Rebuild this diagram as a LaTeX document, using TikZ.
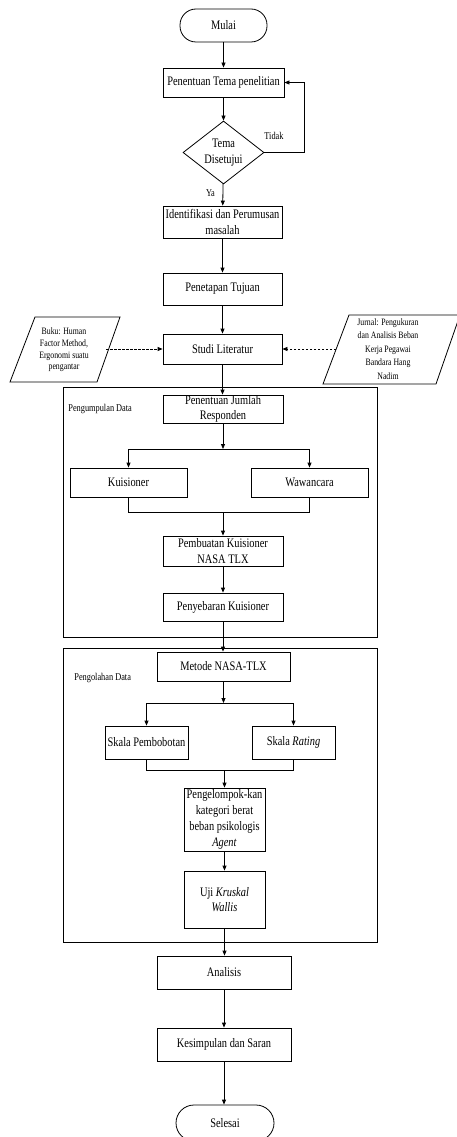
\documentclass[tikz,border=0pt]{standalone}
\usepackage{fontspec}
\setmainfont[FakeStretch=0.8]{Liberation Serif}
\usetikzlibrary{arrows.meta,shapes.geometric}
\begin{document}
\begin{tikzpicture}[x=1pt,y=-1pt,line width=0.8pt,
  font=\fontsize{13}{15.5}\selectfont,
  box/.style={draw,rectangle,align=center,inner sep=0pt},
  term/.style={draw,rectangle,rounded corners=16pt,align=center,inner sep=0pt},
  arr/.style={-{Triangle[length=5pt,width=4pt]}},
  dsh/.style={arr,dash pattern=on 2.5pt off 1.5pt},
  lbl/.style={font=\fontsize{10.4}{11}\selectfont,inner sep=0pt},
  par/.style={font=\fontsize{9.75}{11.7}\selectfont,align=center,inner sep=0pt},
]
\clip (0,0) rectangle (457,1137);
\useasboundingbox (0,0) rectangle (457,1137);

% nodes
\node[term,minimum width=87pt,minimum height=33pt] (mulai) at (223.5,25.5) {Mulai};
\node[box,minimum width=121pt,minimum height=29pt] (tema) at (223.5,82.5) {Penentuan Tema penelitian};
\node[draw,diamond,aspect=1.29,minimum width=81pt,minimum height=63pt,inner sep=0pt,align=center] (dis) at (223.5,152.5) {Tema\\Disetujui};
\node[lbl] (tidak) at (274,136) {Tidak};
\node[lbl] (ya) at (210.5,193) {Ya};
\node[box,minimum width=119pt,minimum height=32pt] (ident) at (222.5,222) {Identifikasi dan Perumusan\\masalah};
\node[box,minimum width=119pt,minimum height=32pt] (tujuan) at (222.5,289) {Penetapan Tujuan};
\node[box,minimum width=119pt,minimum height=30pt] (studi) at (222.5,349) {Studi Literatur};

% literature sources
\draw (35,317) -- (120,317) -- (97,382) -- (10,382) -- cycle;
\node[par] (buku) at (64,350) {Buku: Human\\Factor Method,\\Ergonomi suatu\\pengantar};
\coordinate (bukuR) at (106,349);
\draw (349,315) -- (460,315) -- (436,384) -- (323,384) -- cycle;
\node[par,font=\fontsize{9.75}{13.5}\selectfont] (jurnal) at (388,349) {Jurnal: Pengukuran\\dan Analisis Beban\\Kerja Pegawai\\Bandara Hang\\Nadim};
\coordinate (jurnalL) at (336,349);

% group 1
\draw (63,387) rectangle (377,637);
\node[lbl,anchor=west] (lab1) at (68,409) {Pengumpulan Data};
\node[box,minimum width=120pt,minimum height=28pt] (jumlah) at (223,409) {Penentuan Jumlah\\Responden};
\coordinate (s1) at (223,449);
\coordinate (s1l) at (128.5,449);
\coordinate (s1r) at (309.5,449);
\node[box,minimum width=117pt,minimum height=29pt] (kuis) at (128.5,482.5) {Kuisioner};
\node[box,minimum width=117pt,minimum height=29pt] (waw) at (309.5,482.5) {Wawancara};
\coordinate (m1) at (223,512);
\node[box,minimum width=120pt,minimum height=30pt] (buat) at (223,551) {Pembuatan Kuisioner\\NASA TLX};
\node[box,minimum width=120pt,minimum height=28pt] (sebar) at (223,607) {Penyebaran Kuisioner};

% group 2
\draw (63,648) rectangle (377,942);
\node[lbl,anchor=west] (lab2) at (74,678) {Pengolahan Data};
\node[box,minimum width=133pt,minimum height=29pt] (metode) at (223.5,666.5) {Metode NASA-TLX};
\coordinate (s2) at (223.5,703);
\coordinate (s2l) at (146.5,703);
\coordinate (s2r) at (293.5,703);
\node[box,minimum width=83pt,minimum height=33pt] (pemb) at (146.5,742.5) {Skala Pembobotan};
\node[box,minimum width=83pt,minimum height=33pt] (rating) at (293.5,742.5) {Skala \textit{Rating}};
\coordinate (m2) at (224.5,770);
\node[box,minimum width=81pt,minimum height=63pt,font=\fontsize{13}{16}\selectfont] (kelompok) at (224.5,819.5) {Pengelompok-kan\\kategori berat\\beban psikologis\\\textit{Agent}};
\node[box,minimum width=81pt,minimum height=57pt] (uji) at (224.5,899.5) {Uji \textit{Kruskal}\\\textit{Wallis}};

\node[box,minimum width=134pt,minimum height=33pt] (analisis) at (224,972.5) {Analisis};
\node[box,minimum width=134pt,minimum height=33pt] (kesimpulan) at (224,1044.5) {Kesimpulan dan Saran};
\node[term,rounded corners=18pt,minimum width=98pt,minimum height=36pt] (selesai) at (225,1123) {Selesai};

% connectors
\draw[arr] (mulai) -- (tema);
\draw[arr] (tema) -- (dis);
\draw[arr] (dis.east) -- ++(39.5,0) |- (tema.east);
\draw[arr] (dis) -- (ident);
\draw[arr] (ident) -- (tujuan);
\draw[arr] (tujuan) -- (studi);
\draw[dsh] (bukuR) -- (studi.west);
\draw[dsh] (jurnalL) -- (studi.east);
\draw[arr] (studi.south) -- (studi.south |- jumlah.north);
\draw[arr] (jumlah.south) -- (s1);
\draw (s1l) -- (s1r);
\draw[arr] (s1l) -- (kuis);
\draw[arr] (s1r) -- (waw);
\draw (kuis.south) -- (kuis.south |- m1) -- (waw.south |- m1) -- (waw.south);
\draw[arr] (m1) -- (buat);
\draw[arr] (buat) -- (sebar);
\draw[arr] (sebar.south) -- (sebar.south |- metode.north);
\draw[arr] (metode.south) -- (s2);
\draw (s2l) -- (s2r);
\draw[arr] (s2l) -- (pemb);
\draw[arr] (s2r) -- (rating);
\draw (pemb.south) -- (pemb.south |- m2) -- (rating.south |- m2) -- (rating.south);
\draw[arr] (m2) -- (kelompok);
\draw[arr] (kelompok) -- (uji);
\draw[arr] (uji.south) -- (uji.south |- analisis.north);
\draw[arr] (analisis) -- (kesimpulan);
\draw[arr] (kesimpulan.south) -- (kesimpulan.south |- selesai.north);
\end{tikzpicture}
\end{document}
